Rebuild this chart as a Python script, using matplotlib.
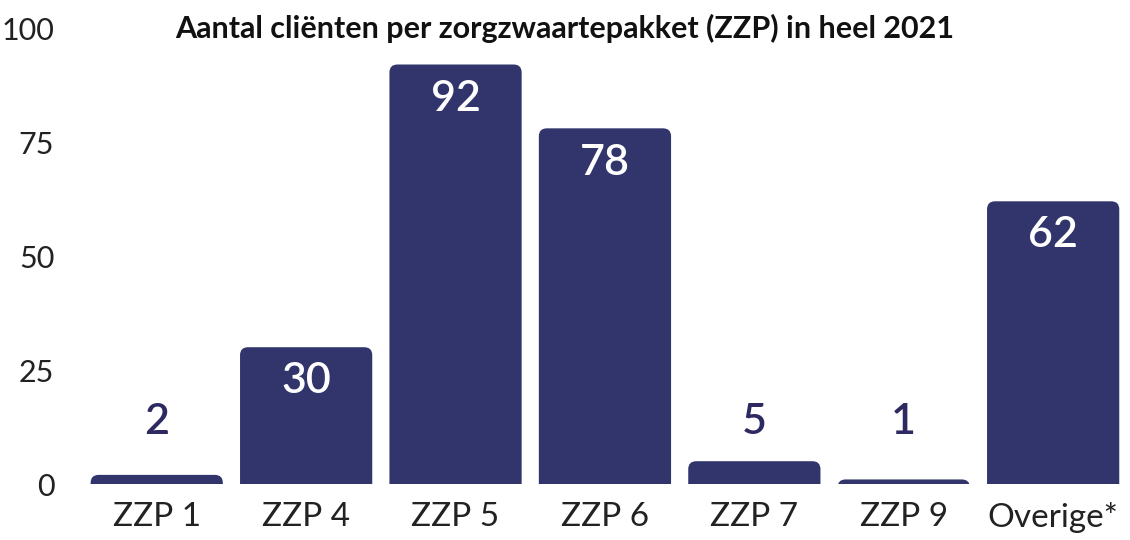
import numpy as np
import matplotlib
matplotlib.use("Agg")
import matplotlib.pyplot as plt
from matplotlib.patches import FancyBboxPatch

categories = ["ZZP 1", "ZZP 4", "ZZP 5", "ZZP 6", "ZZP 7", "ZZP 9", "Overige*"]
values = [2, 30, 92, 78, 5, 1, 62]
yticks = [0, 25, 50, 75, 100]
title = "Aantal cliënten per zorgzwaartepakket (ZZP) in heel 2021"

bar_color = "#31356b"
label_dark = "#2d2a62"

plt.rcParams["font.family"] = ["Lato", "DejaVu Sans"]

fig = plt.figure(figsize=(11.3, 5.4), dpi=100)
ax = fig.add_axes([0.0726, 0.1037, 0.9255, 0.8444])

x = np.arange(len(categories))
width = 0.885
ax.set_xlim(-0.5, len(categories) - 0.5)
ax.set_ylim(0, 100)

# aspect between data units so the corner rounding looks circular
fig.canvas.draw()
bbox = ax.get_window_extent()
px_x = bbox.width / (ax.get_xlim()[1] - ax.get_xlim()[0])
px_y = bbox.height / (ax.get_ylim()[1] - ax.get_ylim()[0])
aspect = px_x / px_y
radius = 8 / px_x
below = 5  # bars start under the axis and get clipped, so only top is round

for xi, v in zip(x, values):
    p = FancyBboxPatch((xi - width / 2, -below), width, v + below,
                       boxstyle=f"round,pad=0,rounding_size={radius}",
                       mutation_aspect=aspect, facecolor=bar_color,
                       edgecolor="none")
    ax.add_patch(p)
    if v >= 20:
        ax.text(xi, v - 7.5, str(v), ha="center", va="center", color="white",
                fontsize=31, fontweight="semibold")
    else:
        ax.text(xi, 13.6, str(v), ha="center", va="center", color=label_dark,
                fontsize=31, fontweight="semibold")

ax.set_xticks(x)
ax.set_xticklabels(categories, fontsize=24, color="#222222")
ax.set_yticks(yticks)
ax.set_yticklabels([str(t) for t in yticks], fontsize=22, color="#222222")
ax.tick_params(axis="both", length=0)
ax.tick_params(axis="x", pad=13)
ax.tick_params(axis="y", pad=20)
for s in ax.spines.values():
    s.set_visible(False)

fig.text(0.5, 0.948, title, ha="center", va="center", fontsize=22,
         fontweight="bold", color="#111111")

fig.savefig("out.png", dpi=100)
